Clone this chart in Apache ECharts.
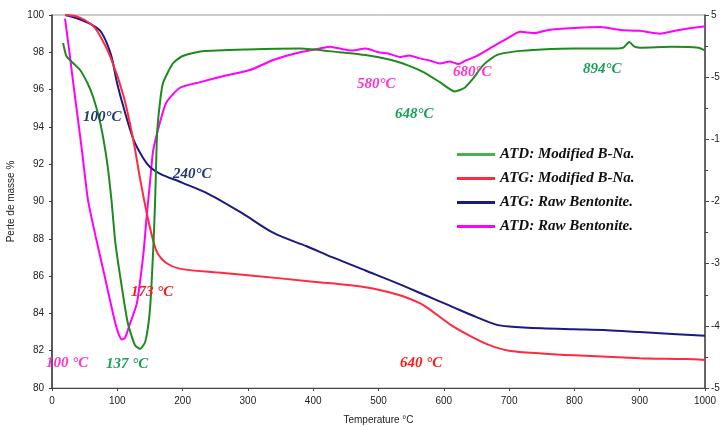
<!DOCTYPE html>
<html><head><meta charset="utf-8">
<script src="https://cdn.jsdelivr.net/npm/echarts@6/dist/echarts.min.js"></script>
<style>html,body{margin:0;padding:0;background:#fff}#c{width:720px;height:427px}</style>
</head><body><div id="c"></div>
<script>
// Temperature ticks
const xTicks = [0,100,200,300,400,500,600,700,800,900,1000];
// ATG: Modified B-Na. (mass %, left axis)
const tRedATG = [20,40,60,70,90,110,125,135,145,155,162,175,195,250,300,400,480,530,560,575,610,640,670,700,750,800,900,970,1000];
const vRedATG = [100,99.9,99.5,99.1,97.7,95.6,93.2,91.2,89.4,87.9,87.2,86.7,86.4,86.2,86.05,85.7,85.4,85.0,84.6,84.3,83.4,82.8,82.3,82.0,81.85,81.75,81.6,81.55,81.5];
// ATG: Raw Bentonite. (mass %, left axis)
const tNavyATG = [20,40,60,75,90,100,110,125,140,150,165,200,240,290,340,390,430,480,530,570,610,650,680,700,750,800,850,900,950,1000];
const vNavyATG = [100,99.8,99.5,99.1,97.9,96.3,95.0,93.3,92.3,91.85,91.5,91.0,90.4,89.4,88.3,87.6,87.0,86.3,85.6,85.0,84.4,83.8,83.4,83.3,83.2,83.15,83.1,83.0,82.9,82.8];
// ATD: Modified B-Na. (right axis)
const tGreenATD = [17,22,30,43,55,63,74,84,91,97,107,116,127,135,143,150,155,158,161,166,170,185,200,230,300,380,440,480,518,545,568,594,617,632,645,660,681,710,750,800,860,875,884,892,900,950,990,1000];
const vGreenATD = [0.5,-1.6,-2.5,-3.85,-6.1,-8.2,-12.4,-18.4,-24.7,-31.6,-38.8,-44.5,-48.1,-48.7,-47.5,-42.4,-32.8,-24.7,-13.9,-8.5,-5.95,-2.8,-1.6,-0.85,-0.55,-0.4,-1.0,-1.45,-2.2,-3.1,-4.15,-5.8,-7.3,-6.7,-5.2,-3.1,-1.45,-0.85,-0.55,-0.4,-0.4,-0.25,0.65,-0.1,-0.25,-0.1,-0.25,-0.7];
// ATD: Raw Bentonite. (right axis)
const tMagATD = [20,26,32,46,55,67,80,94,101,107,112,118,130,140,145,150,155,165,175,196,227,260,303,340,380,410,426,445,460,480,500,515,533,548,560,579,594,610,622,633,650,675,700,717,740,760,800,840,870,900,931,960,1000];
const vMagATD = [4.4,-0.4,-5.5,-16.9,-24.7,-30.7,-36.7,-43.3,-46,-47.2,-46.9,-45.1,-41.35,-33.4,-27.4,-22,-16.75,-12.4,-9.1,-6.7,-5.8,-4.9,-3.85,-2.2,-1,-0.4,-0.1,-0.5,-0.7,-0.4,-1.0,-1.2,-1.75,-1.5,-1.9,-2.35,-2.8,-2.5,-2.9,-2.35,-1.6,-0.1,1.4,2.3,2.1,2.6,2.9,3.05,2.6,2.45,2.0,2.6,3.2];
// Names
const seriesNames = ['ATD: Modified B-Na.','ATG: Modified B-Na.','ATG: Raw Bentonite.','ATD: Raw Bentonite.'];
// Annotations
const notes = [
  {t:'100°C', c:'#1f3a6e', x:83, y:110},
  {t:'240°C', c:'#1f3a6e', x:173, y:167},
  {t:'173 °C', c:'#ff1a1a', x:131, y:285},
  {t:'100 °C', c:'#ff33cc', x:46, y:356},
  {t:'137 °C', c:'#1a9e5c', x:106, y:357},
  {t:'640 °C', c:'#ff1a1a', x:400, y:356},
  {t:'580°C', c:'#ff33cc', x:357, y:77},
  {t:'648°C', c:'#1a9e5c', x:395, y:107},
  {t:'680°C', c:'#ff33cc', x:453, y:65},
  {t:'894°C', c:'#1a9e5c', x:583, y:62}
];
const pairs = (t,v) => t.map((x,i)=>[x,v[i]]);
const chart = echarts.init(document.getElementById('c'));
const axisFont = {fontFamily:'Liberation Sans, Arial', fontSize:10, color:'#222'};
chart.setOption({
  animation:false,
  backgroundColor:'#fff',
  grid:{left:52, right:15, top:15, bottom:39, show:true, borderColor:'#999', borderWidth:1, containLabel:false, outerBoundsMode:'none'},
  legend:{
    orient:'vertical', left:452, top:142, itemGap:9, itemWidth:38, itemHeight:3, icon:'rect',
    data:seriesNames,
    textStyle:{fontFamily:'Liberation Serif', fontStyle:'italic', fontWeight:'bold', fontSize:15, color:'#111'}
  },
  xAxis:{type:'value', min:0, max:1000, interval:100,
    name:'Temperature °C', nameLocation:'middle', nameGap:27,
    nameTextStyle:{fontFamily:'Liberation Sans, Arial', fontSize:10, color:'#222'},
    axisLine:{onZero:false, lineStyle:{color:'#444'}}, axisTick:{length:3, lineStyle:{color:'#444'}},
    axisLabel:Object.assign({margin:8, formatter:v=>String(v)}, axisFont), splitLine:{show:false}},
  yAxis:[
    {type:'value', min:80, max:100, interval:2, position:'left',
      name:'Perte de masse %', nameLocation:'middle', nameGap:33,
      nameTextStyle:{fontFamily:'Liberation Sans, Arial', fontSize:10, color:'#222'},
      axisLine:{show:true, onZero:false, lineStyle:{color:'#333', width:1.5}}, axisTick:{show:true, length:3, lineStyle:{color:'#333'}},
      axisLabel:Object.assign({margin:8}, axisFont), splitLine:{show:false}},
    {type:'value', min:-55, max:5, interval:10, position:'right',
      axisLine:{show:true, onZero:false, lineStyle:{color:'#444', width:1.5}}, axisTick:{show:true, length:4, lineStyle:{color:'#444'}},
      minorTick:{show:true, splitNumber:2, length:3, lineStyle:{color:'#444'}},
      axisLabel:Object.assign({margin:6}, axisFont), splitLine:{show:false}}
  ],
  series:[
    {name:seriesNames[3], type:'line', yAxisIndex:1, data:pairs(tMagATD,vMagATD), showSymbol:false, smooth:0.2,
      lineStyle:{color:'#ff00ff', width:2}, itemStyle:{color:'#ff00ff'}},
    {name:seriesNames[2], type:'line', yAxisIndex:0, data:pairs(tNavyATG,vNavyATG), showSymbol:false, smooth:0.3,
      lineStyle:{color:'#1a1a80', width:2}, itemStyle:{color:'#1a1a80'}},
    {name:seriesNames[1], type:'line', yAxisIndex:0, data:pairs(tRedATG,vRedATG), showSymbol:false, smooth:0.3,
      lineStyle:{color:'#ff2a40', width:2}, itemStyle:{color:'#ff2a40'}},
    {name:seriesNames[0], type:'line', yAxisIndex:1, data:pairs(tGreenATD,vGreenATD), showSymbol:false, smooth:0.2,
      lineStyle:{color:'#1f8a1f', width:2}, itemStyle:{color:'#4cae4c'}}
  ],
  graphic: notes.map(n=>({type:'text', left:n.x, top:n.y, z:100,
    style:{text:n.t, fill:n.c, font:'italic bold 15px "Liberation Serif"'}}))
});
</script></body></html>
